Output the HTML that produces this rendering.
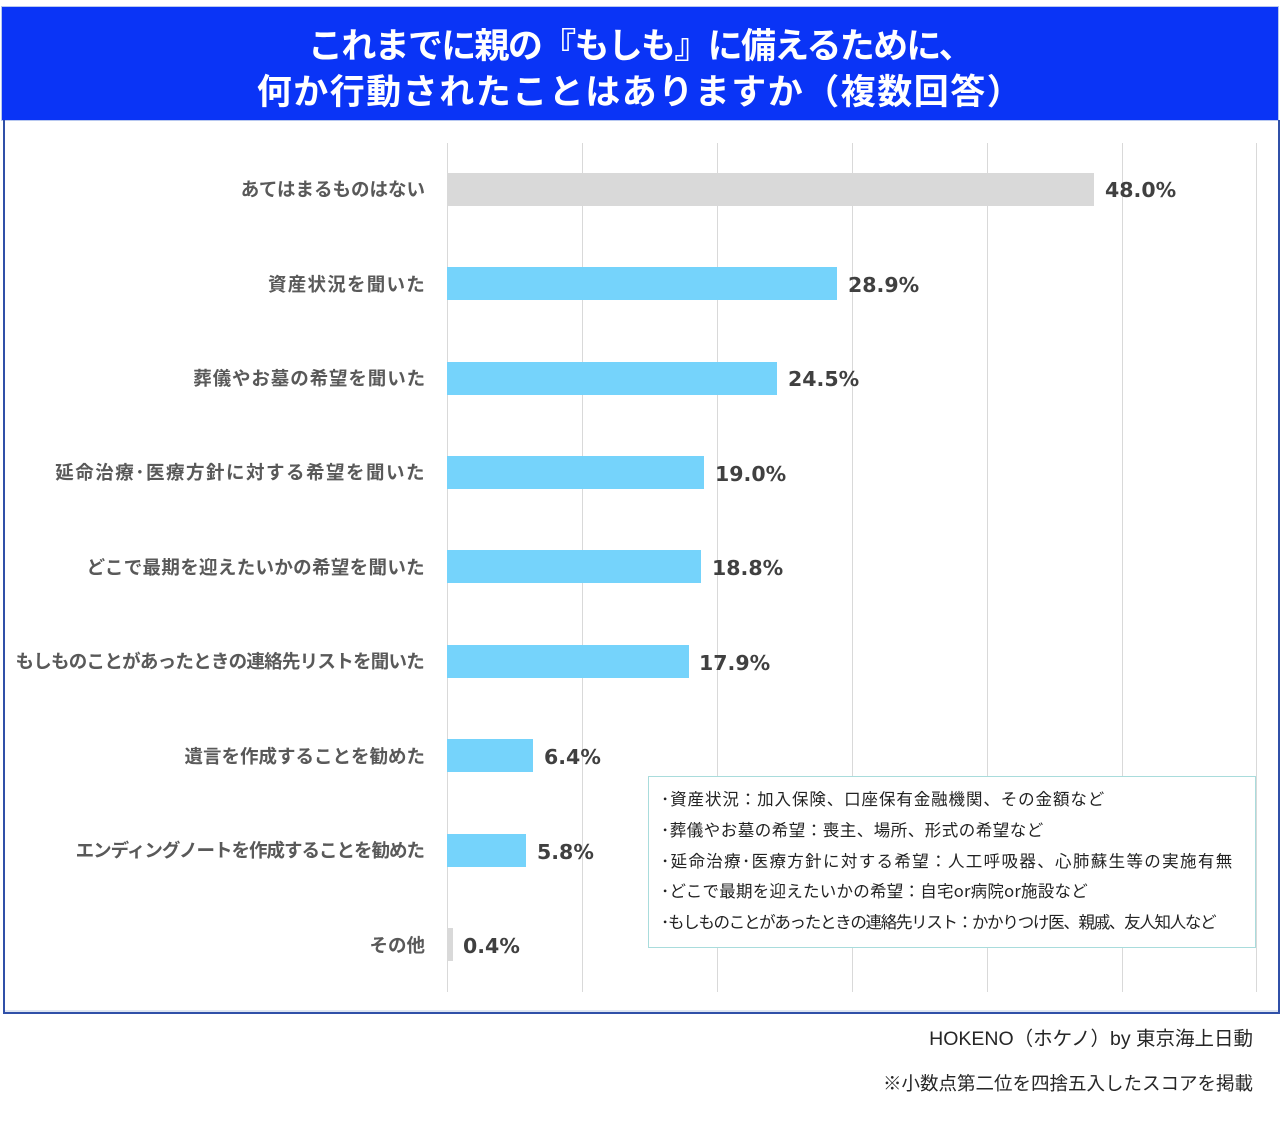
<!DOCTYPE html>
<html><head><meta charset="utf-8">
<style>
html,body{margin:0;padding:0;background:#fff;}
body{width:1280px;height:1124px;position:relative;overflow:hidden;font-family:"Liberation Sans","Noto Sans CJK JP",sans-serif;}
.hdr{position:absolute;left:2px;top:7px;width:1276px;height:113px;background:#0a34f6;box-shadow:0 0 0 1px #b8c8f0;}
.t{position:absolute;left:0;width:1280px;text-align:center;color:#fff;font-family:"Noto Sans CJK JP",sans-serif;font-weight:700;font-size:35px;line-height:40px;white-space:nowrap;}
.frame{position:absolute;left:3px;top:120px;width:1273px;height:892px;border-left:2px solid #3050a8;border-right:2px solid #3050a8;border-bottom:2px solid #3050a8;box-shadow:inset 0 -2px 0 #dfe6f2;}
.g{position:absolute;top:143px;width:1px;height:849px;background:#d9d9d9;}
.bar{position:absolute;height:33px;}
.b{background:#75d3fb;}
.gr{background:#d9d9d9;}
.lab{position:absolute;right:855px;width:440px;text-align:right;font-family:"Noto Sans CJK JP",sans-serif;font-weight:700;font-size:18.5px;color:#595959;line-height:24px;white-space:nowrap;}
.val{position:absolute;font-family:"DejaVu Sans",Verdana,sans-serif;font-weight:700;font-size:20.5px;color:#404040;line-height:24px;white-space:nowrap;}
.note{position:absolute;left:648px;top:776px;width:606px;height:170px;border:1.5px solid #a9dcdc;background:#fff;}
.nl{position:absolute;left:12px;font-family:"Noto Sans CJK JP",sans-serif;font-size:16.5px;color:#222;line-height:22px;white-space:nowrap;}
.ft{position:absolute;right:27px;font-family:"Liberation Sans","Noto Sans CJK JP",sans-serif;color:#262626;white-space:nowrap;line-height:24px;}
</style></head><body>
<div class="hdr"></div>
<div class="t" style="top:24px;letter-spacing:-1.7px;">これまでに親の『もしも』に備えるために、</div>
<div class="t" style="top:70px;letter-spacing:1.5px;">何か行動されたことはありますか（複数回答）</div>
<div class="frame"></div>

<div class="g" style="left:447px"></div>
<div class="g" style="left:582px"></div>
<div class="g" style="left:717px"></div>
<div class="g" style="left:852px"></div>
<div class="g" style="left:987px"></div>
<div class="g" style="left:1122px"></div>
<div class="g" style="left:1256px"></div>

<div class="bar gr" style="left:447px;top:173px;width:647px"></div>
<div class="bar b" style="left:447px;top:267px;width:390px"></div>
<div class="bar b" style="left:447px;top:362px;width:330px"></div>
<div class="bar b" style="left:447px;top:456px;width:257px"></div>
<div class="bar b" style="left:447px;top:550px;width:254px"></div>
<div class="bar b" style="left:447px;top:645px;width:242px"></div>
<div class="bar b" style="left:447px;top:739px;width:86px"></div>
<div class="bar b" style="left:447px;top:834px;width:79px"></div>
<div class="bar gr" style="left:447px;top:928px;width:6px"></div>

<div class="lab" style="top:177px">あてはまるものはない</div>
<div class="lab" style="top:272px;letter-spacing:1.25px;margin-right:-1px">資産状況を聞いた</div>
<div class="lab" style="top:366px;letter-spacing:0.9px;margin-right:-1px">葬儀やお墓の希望を聞いた</div>
<div class="lab" style="top:460px;letter-spacing:1.5px;margin-right:-1px">延命治療･医療方針に対する希望を聞いた</div>
<div class="lab" style="top:555px;letter-spacing:0.33px">どこで最期を迎えたいかの希望を聞いた</div>
<div class="lab" style="top:649px;letter-spacing:-0.74px;margin-right:1px">もしものことがあったときの連絡先リストを聞いた</div>
<div class="lab" style="top:744px">遺言を作成することを勧めた</div>
<div class="lab" style="top:838px;letter-spacing:-1px;margin-right:1px">エンディングノートを作成することを勧めた</div>
<div class="lab" style="top:933px">その他</div>

<div class="val" style="left:1105px;top:178px">48.0%</div>
<div class="val" style="left:848px;top:273px">28.9%</div>
<div class="val" style="left:788px;top:367px">24.5%</div>
<div class="val" style="left:715px;top:462px">19.0%</div>
<div class="val" style="left:712px;top:556px">18.8%</div>
<div class="val" style="left:699px;top:651px">17.9%</div>
<div class="val" style="left:544px;top:745px">6.4%</div>
<div class="val" style="left:537px;top:840px">5.8%</div>
<div class="val" style="left:463px;top:934px">0.4%</div>

<div class="note">
<div class="nl" style="top:10px;letter-spacing:0.9px">･資産状況：加入保険、口座保有金融機関、その金額など</div>
<div class="nl" style="top:41px;letter-spacing:0.5px">･葬儀やお墓の希望：喪主、場所、形式の希望など</div>
<div class="nl" style="top:72px;letter-spacing:1.35px">･延命治療･医療方針に対する希望：人工呼吸器、心肺蘇生等の実施有無</div>
<div class="nl" style="top:102px;letter-spacing:0.25px">･どこで最期を迎えたいかの希望：自宅or病院or施設など</div>
<div class="nl" style="top:133px;letter-spacing:-1.3px">･もしものことがあったときの連絡先リスト：かかりつけ医、親戚、友人知人など</div>
</div>

<div class="ft" style="top:1027px;font-size:19.5px;">HOKENO（ホケノ）by 東京海上日動</div>
<div class="ft" style="top:1072px;font-size:18.5px;">※小数点第二位を四捨五入したスコアを掲載</div>
</body></html>
